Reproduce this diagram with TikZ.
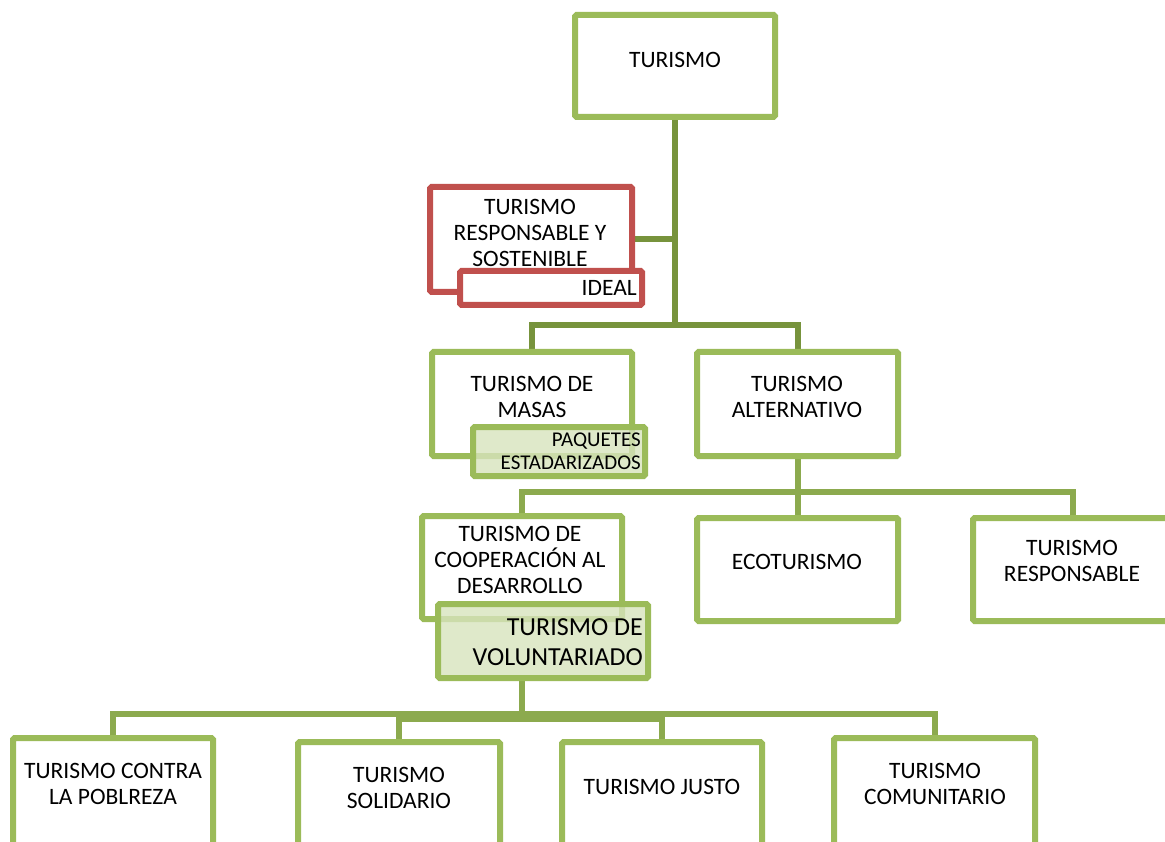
\documentclass[tikz,border=0pt]{standalone}
\usepackage{fontspec}
\setmainfont{Carlito}
\definecolor{boxgreen}{HTML}{9BBB59}
\definecolor{darkline}{HTML}{77933C}
\definecolor{midline}{HTML}{8CAA4E}
\definecolor{boxred}{HTML}{C0504D}
\definecolor{lightfill}{HTML}{D7E4BD}
\pgfdeclarelayer{bg}
\pgfsetlayers{bg,main}
\tikzset{
  box/.style={draw=boxgreen, line width=6pt, rounded corners=1.5pt, fill=white, inner sep=0pt},
  redbox/.style={draw=boxred, line width=6pt, rounded corners=1.5pt, fill=white, inner sep=0pt},
  shadebox/.style={draw=boxgreen, line width=6pt, rounded corners=1.5pt, fill=lightfill, fill opacity=0.8, inner sep=0pt},
  lbl/.style={align=center, inner sep=0pt, font=\fontsize{23.5}{26}\selectfont},
  topline/.style={draw=darkline, line width=6pt},
  busline/.style={draw=midline, line width=6pt},
}
\begin{document}
\begin{tikzpicture}[x=1pt,y=-1pt]
\useasboundingbox (0,0) rectangle (1165,842);
% junction coordinates
\coordinate (j1) at (675,325);
\coordinate (bus2) at (0,492);
\coordinate (bus3) at (0,714);
\coordinate (bus3b) at (0,719);
% boxes
\node[box, minimum width=200, minimum height=102] (tur) at (675,66) {};
\node[redbox, minimum width=202, minimum height=105] (red) at (531,239.5) {};
\node[redbox, minimum width=182, minimum height=34] (ideal) at (551,288) {};
\node[box, minimum width=200, minimum height=104] (masas) at (532,404) {};
\node[shadebox, minimum width=172, minimum height=49] (paq) at (559,451.5) {};
\node[box, minimum width=201, minimum height=104] (alt) at (797.5,404) {};
\node[box, minimum width=200, minimum height=103] (coop) at (522,567.5) {};
\node[box, minimum width=201, minimum height=103] (eco) at (797.5,569.5) {};
\node[box, minimum width=200, minimum height=103] (resp) at (1073,569.5) {};
\node[shadebox, minimum width=210, minimum height=74] (vol) at (543,641) {};
\node[box, minimum width=200, minimum height=112] (b1) at (113,794) {};
\node[box, minimum width=202, minimum height=108] (b2) at (399,796) {};
\node[box, minimum width=200, minimum height=108] (b3) at (662,796) {};
\node[box, minimum width=201, minimum height=112] (b4) at (934.5,794) {};
% texts
\node[lbl] (ttur) at (675,60) {TURISMO};
\node[lbl] (tred) at (530,233) {TURISMO\\RESPONSABLE Y\\SOSTENIBLE};
\node[lbl, anchor=east] (tideal) at (637,288) {IDEAL};
\node[lbl] (tmasas) at (532,397) {TURISMO DE\\MASAS};
\node[lbl, align=right, anchor=east, font=\fontsize{21}{23}\selectfont] (tpaq) at (641,451.5) {PAQUETES\\ESTADARIZADOS};
\node[lbl] (talt) at (797,397) {TURISMO\\ALTERNATIVO};
\node[lbl] (tcoop) at (520,560) {TURISMO DE\\COOPERACIÓN AL\\DESARROLLO};
\node[lbl] (teco) at (797,562) {ECOTURISMO};
\node[lbl] (tresp) at (1072,561) {TURISMO\\RESPONSABLE};
\node[lbl, align=right, anchor=east, font=\fontsize{26}{30}\selectfont] (tvol) at (643,642) {TURISMO DE\\VOLUNTARIADO};
\node[lbl] (tb1) at (113,783.5) {TURISMO CONTRA\\LA POBLREZA};
\node[lbl] (tb2) at (399,787.5) {TURISMO\\SOLIDARIO};
\node[lbl] (tb3) at (662,787) {TURISMO JUSTO};
\node[lbl] (tb4) at (935,783.5) {TURISMO\\COMUNITARIO};
% connectors
\begin{pgfonlayer}{bg}
\draw[topline] (tur.south) -- (j1);
\draw[topline] (red.east) -- (red.east -| j1);
\draw[topline] (masas.north) -- (masas.north |- j1) -- (alt.north |- j1) -- (alt.north);
\draw[busline] (alt.south) -- (alt.south |- bus2);
\draw[busline] (coop.north) -- (coop.north |- bus2) -- (resp.north |- bus2) -- (resp.north);
\draw[busline] (eco.north) -- (eco.north |- bus2);
\draw[busline] (vol.south -| coop.south) -- (coop.south |- bus3);
\draw[busline] (b1.north) -- (b1.north |- bus3) -- (b4.north |- bus3) -- (b4.north);
\draw[busline] (b2.north) -- (b2.north |- bus3b) -- (b3.north |- bus3b) -- (b3.north);
\end{pgfonlayer}
\end{tikzpicture}
\end{document}
